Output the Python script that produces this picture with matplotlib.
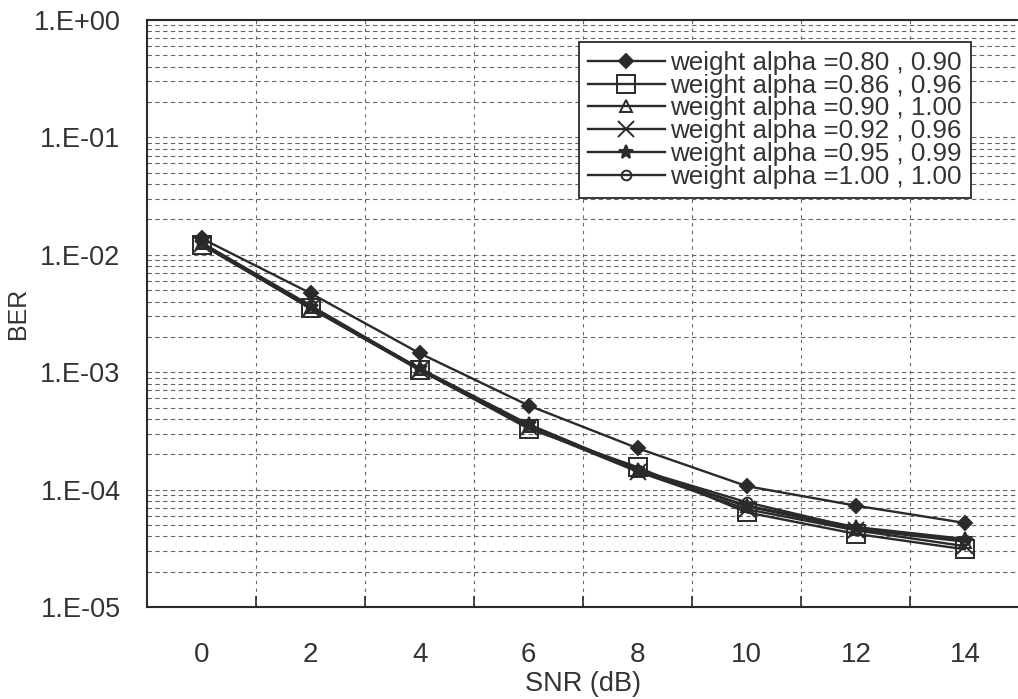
import matplotlib
matplotlib.use("Agg")
import matplotlib.pyplot as plt
from matplotlib.ticker import FixedLocator, FuncFormatter, LogLocator, NullFormatter
import numpy as np

plt.rcParams['font.family'] = ['Liberation Sans', 'DejaVu Sans']

snr = [0, 2, 4, 6, 8, 10, 12, 14]

ber_080_090 = [1.38e-2, 4.7e-3, 1.45e-3, 5.2e-4, 2.25e-4, 1.07e-4, 7.3e-5, 5.2e-5]
ber_086_096 = [1.22e-2, 3.5e-3, 1.05e-3, 3.3e-4, 1.55e-4, 6.4e-5, 4.2e-5, 3.1e-5]
ber_090_100 = [1.25e-2, 3.6e-3, 1.06e-3, 3.5e-4, 1.45e-4, 7.2e-5, 4.6e-5, 3.6e-5]
ber_092_096 = [1.23e-2, 3.5e-3, 1.04e-3, 3.4e-4, 1.42e-4, 6.8e-5, 4.5e-5, 3.3e-5]
ber_095_099 = [1.26e-2, 3.6e-3, 1.08e-3, 3.6e-4, 1.47e-4, 7.3e-5, 4.8e-5, 3.8e-5]
ber_100_100 = [1.27e-2, 3.7e-3, 1.07e-3, 3.5e-4, 1.48e-4, 7.8e-5, 4.7e-5, 3.7e-5]

labels = ['weight alpha =0.80 , 0.90', 'weight alpha =0.86 , 0.96',
          'weight alpha =0.90 , 1.00', 'weight alpha =0.92 , 0.96',
          'weight alpha =0.95 , 0.99', 'weight alpha =1.00 , 1.00']

ink = '#2a2a2a'
txt = '#333333'

fig = plt.figure(figsize=(10.18, 6.99), dpi=100)
ax = fig.add_axes([0.1444, 0.1316, 0.857, 0.8398])

# one style per curve: marker, size, filled or open
styles = [
    (ber_080_090, 'D', 7, ink),
    (ber_086_096, 's', 13, 'none'),
    (ber_090_100, '^', 8, 'none'),
    (ber_092_096, 'x', 12, ink),
    (ber_095_099, '*', 10, ink),
    (ber_100_100, 'o', 7, 'none'),
]
for (vals, mk, ms, fc), lab in zip(styles, labels):
    ax.plot(snr, vals, color=ink, lw=1.7, marker=mk, markersize=ms,
            markerfacecolor=fc, markeredgecolor=ink, markeredgewidth=1.4,
            label=lab, zorder=3)

ax.set_yscale('log')
ax.set_ylim(1e-5, 1)
ax.set_xlim(-1, 15)

# y axis: decades labelled as 1.E-0n, grid on every minor step
ax.yaxis.set_major_locator(LogLocator(base=10, numticks=10))
ax.yaxis.set_minor_locator(LogLocator(base=10, subs=np.arange(2, 10), numticks=20))
ax.yaxis.set_major_formatter(FuncFormatter(lambda v, p: '1.E%+03d' % int(round(np.log10(v)))))
ax.yaxis.set_minor_formatter(NullFormatter())
ax.grid(True, which='both', axis='y', color='#666666', lw=0.8, ls=(0, (4, 3)))

# x axis: values centred in columns, grid on the column borders
ax.xaxis.set_major_locator(FixedLocator(np.arange(1, 15, 2)))
ax.xaxis.set_major_formatter(NullFormatter())
ax.xaxis.set_minor_locator(FixedLocator(snr))
ax.xaxis.set_minor_formatter(FuncFormatter(lambda v, p: '%d' % v))
ax.grid(True, which='major', axis='x', color='#666666', lw=0.8, ls=(0, (3, 4)))
ax.tick_params(axis='x', which='major', direction='in', length=8, width=1.2, color=ink)
ax.tick_params(axis='x', which='minor', length=0, pad=25, labelsize=20, labelcolor=txt)
ax.tick_params(axis='y', which='major', length=0, pad=19, labelsize=19.5, labelcolor=txt)
ax.tick_params(axis='y', which='minor', length=0)

for sp in ax.spines.values():
    sp.set_color(ink)
    sp.set_linewidth(1.5)

ax.set_xlabel('SNR (dB)', fontsize=19.5, color=txt, labelpad=2)
ax.set_ylabel('BER', fontsize=18, color=txt, labelpad=3)

leg = ax.legend(loc='upper right', bbox_to_anchor=(0.944, 0.9625), fontsize=18.7,
                frameon=True, fancybox=False, edgecolor=ink, framealpha=1,
                handlelength=2.95, handletextpad=0.2, labelspacing=-0.05,
                borderpad=0.35, borderaxespad=0)
leg.get_frame().set_linewidth(1.3)
for t in leg.get_texts():
    t.set_color(txt)

fig.savefig('out.png', dpi=100, facecolor='white')
